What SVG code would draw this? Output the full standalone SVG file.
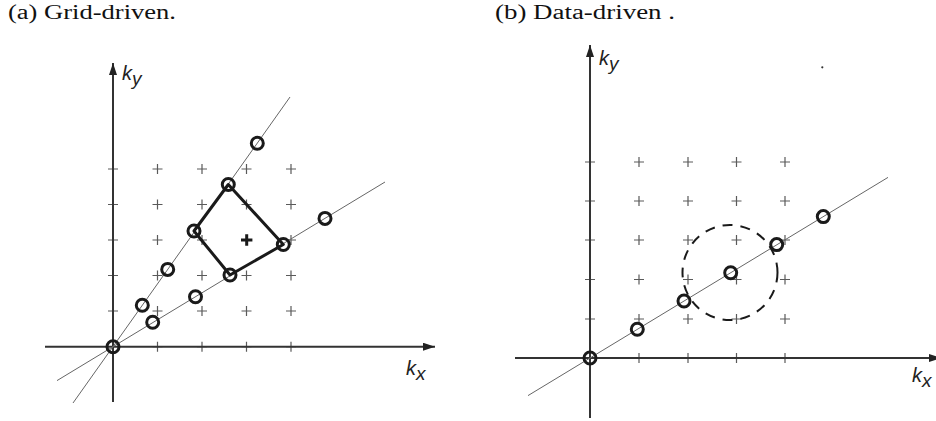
<svg xmlns="http://www.w3.org/2000/svg" xmlns:xlink="http://www.w3.org/1999/xlink" width="936" height="421" viewBox="0 0 936 421">
<style>
.title{font-family:"Liberation Serif","DejaVu Serif",serif;font-size:20px;fill:#111}
.lab{font-family:"Liberation Sans","DejaVu Sans",sans-serif;font-style:italic;font-size:20px;fill:#222}
.sub{font-size:19px}
.axis{stroke:#333;stroke-width:2;fill:none}
.line{stroke:#666;stroke-width:1;fill:none}
.pt{stroke:#1a1a1a;stroke-width:3;fill:none}
.quad{stroke:#1a1a1a;stroke-width:3;fill:none;stroke-linejoin:round}
.dash{stroke:#1a1a1a;stroke-width:2;fill:none;stroke-dasharray:10 8}
</style>
<defs>
<path id="cr" d="M-5,0H5M0,-5V5" stroke="#5a5a5a" stroke-width="1.2" fill="none"/>
<marker id="ah" viewBox="0 0 12 8" refX="12" refY="4" markerWidth="12" markerHeight="8" markerUnits="userSpaceOnUse" orient="auto">
<path d="M0,0L12,4L0,8Z" fill="#222"/>
</marker>
</defs>
<g id="titles">
<text class="title" x="8" y="19" textLength="168" lengthAdjust="spacingAndGlyphs">(a) Grid-driven.</text>
<text class="title" x="495" y="19" textLength="180" lengthAdjust="spacingAndGlyphs">(b) Data-driven .</text>
</g>
<g id="panel-a">
<g id="grid-a">
<use xlink:href="#cr" x="113" y="169"/><use xlink:href="#cr" x="157.5" y="169"/><use xlink:href="#cr" x="202" y="169"/><use xlink:href="#cr" x="246.5" y="169"/><use xlink:href="#cr" x="291" y="169"/>
<use xlink:href="#cr" x="113" y="204.5"/><use xlink:href="#cr" x="157.5" y="204.5"/><use xlink:href="#cr" x="202" y="204.5"/><use xlink:href="#cr" x="246.5" y="204.5"/><use xlink:href="#cr" x="291" y="204.5"/>
<use xlink:href="#cr" x="113" y="240"/><use xlink:href="#cr" x="157.5" y="240"/><use xlink:href="#cr" x="202" y="240"/><use xlink:href="#cr" x="291" y="240"/>
<use xlink:href="#cr" x="113" y="275.5"/><use xlink:href="#cr" x="157.5" y="275.5"/><use xlink:href="#cr" x="202" y="275.5"/><use xlink:href="#cr" x="246.5" y="275.5"/><use xlink:href="#cr" x="291" y="275.5"/>
<use xlink:href="#cr" x="113" y="311"/><use xlink:href="#cr" x="157.5" y="311"/><use xlink:href="#cr" x="202" y="311"/><use xlink:href="#cr" x="246.5" y="311"/><use xlink:href="#cr" x="291" y="311"/>
<use xlink:href="#cr" x="157.5" y="346.7"/><use xlink:href="#cr" x="202" y="346.7"/><use xlink:href="#cr" x="246.5" y="346.7"/><use xlink:href="#cr" x="291" y="346.7"/>
</g>
<g id="axes-a">
<line class="axis" x1="113" y1="402" x2="113" y2="63" marker-end="url(#ah)"/>
<line class="axis" x1="45" y1="346.7" x2="435" y2="346.7" marker-end="url(#ah)"/>
<text class="lab" x="122" y="80">k<tspan class="sub" dy="5">y</tspan></text>
<text class="lab" x="406" y="375">k<tspan class="sub" dy="5">x</tspan></text>
</g>
<g id="lines-a">
<line class="line" x1="73" y1="403" x2="290" y2="97"/>
<line class="line" x1="57" y1="380.6" x2="385" y2="182"/>
</g>
<path id="quad" class="quad" d="M194,231L228.3,184.5L283.3,244.5L230,275Z"/>
<path id="center-cross" d="M241,240H252.4M246.7,234.3V245.7" stroke="#1a1a1a" stroke-width="3"/>
<g id="points-a">
<circle class="pt" cx="113" cy="346.7" r="6"/>
<circle class="pt" cx="142.3" cy="305.2" r="6"/>
<circle class="pt" cx="167.7" cy="269.4" r="6"/>
<circle class="pt" cx="194" cy="231" r="6"/>
<circle class="pt" cx="228.3" cy="184.5" r="6"/>
<circle class="pt" cx="257.3" cy="143.3" r="6"/>
<circle class="pt" cx="152.7" cy="322.2" r="6"/>
<circle class="pt" cx="195.5" cy="296.7" r="6"/>
<circle class="pt" cx="230" cy="275" r="6"/>
<circle class="pt" cx="283.3" cy="244.5" r="6"/>
<circle class="pt" cx="325" cy="218.4" r="6"/>
</g>
</g>
<g id="panel-b">
<g id="grid-b">
<use xlink:href="#cr" x="590" y="162"/><use xlink:href="#cr" x="639" y="162"/><use xlink:href="#cr" x="688" y="162"/><use xlink:href="#cr" x="736.5" y="162"/><use xlink:href="#cr" x="785" y="162"/>
<use xlink:href="#cr" x="590" y="201"/><use xlink:href="#cr" x="639" y="201"/><use xlink:href="#cr" x="688" y="201"/><use xlink:href="#cr" x="736.5" y="201"/><use xlink:href="#cr" x="785" y="201"/>
<use xlink:href="#cr" x="590" y="240"/><use xlink:href="#cr" x="639" y="240"/><use xlink:href="#cr" x="688" y="240"/><use xlink:href="#cr" x="736.5" y="240"/><use xlink:href="#cr" x="785" y="240"/>
<use xlink:href="#cr" x="590" y="279.5"/><use xlink:href="#cr" x="639" y="279.5"/><use xlink:href="#cr" x="688" y="279.5"/><use xlink:href="#cr" x="736.5" y="279.5"/><use xlink:href="#cr" x="785" y="279.5"/>
<use xlink:href="#cr" x="590" y="319"/><use xlink:href="#cr" x="639" y="319"/><use xlink:href="#cr" x="688" y="319"/><use xlink:href="#cr" x="736.5" y="319"/><use xlink:href="#cr" x="785" y="319"/>
<use xlink:href="#cr" x="639" y="358"/><use xlink:href="#cr" x="688" y="358"/><use xlink:href="#cr" x="736.5" y="358"/><use xlink:href="#cr" x="785" y="358"/>
</g>
<g id="axes-b">
<line class="axis" x1="590" y1="418" x2="590" y2="45" marker-end="url(#ah)"/>
<line class="axis" x1="515" y1="358" x2="941" y2="358" marker-end="url(#ah)"/>
<text class="lab" x="599" y="65">k<tspan class="sub" dy="5">y</tspan></text>
<text class="lab" x="912" y="382">k<tspan class="sub" dy="5">x</tspan></text>
</g>
<line id="line-b" class="line" x1="528" y1="395.6" x2="888" y2="177.4"/>
<circle id="neighborhood" class="dash" cx="730" cy="272.5" r="47.5"/>
<g id="points-b">
<circle class="pt" cx="590" cy="358" r="6"/>
<circle class="pt" cx="637.3" cy="329.3" r="6"/>
<circle class="pt" cx="684" cy="301" r="6"/>
<circle class="pt" cx="730.7" cy="272.7" r="6"/>
<circle class="pt" cx="776.7" cy="244.6" r="6"/>
<circle class="pt" cx="823.3" cy="216.6" r="6"/>
</g>
<circle id="dot" cx="822.3" cy="67.3" r="1.1" fill="#333"/>
</g>
</svg>
